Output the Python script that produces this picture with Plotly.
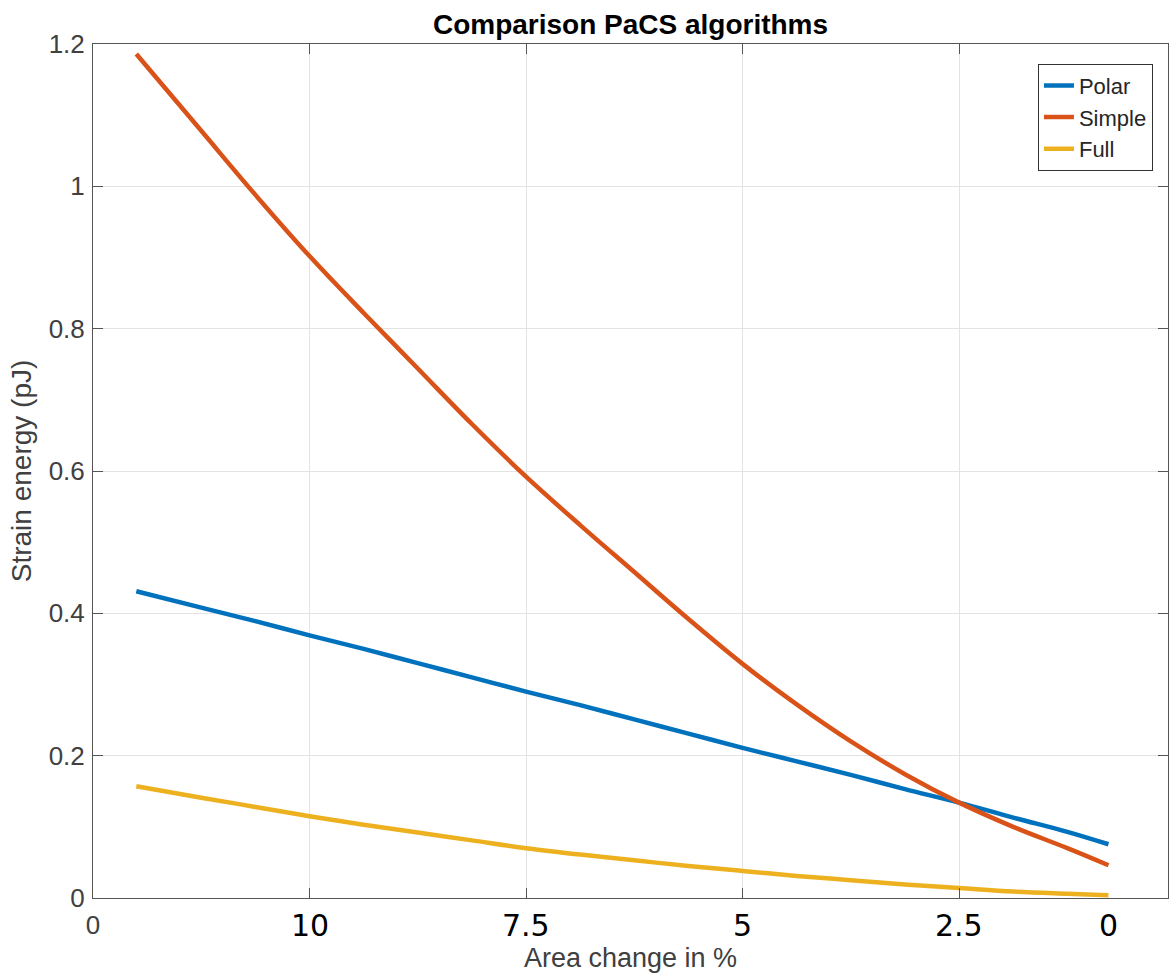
import plotly.graph_objects as go

# Underlying x positions of the samples (axis units, the chart relabels them)
x_step = [0.2, 0.5, 0.75, 1.0, 1.25, 1.5, 1.75, 2.0, 2.25, 2.5, 2.75,
          3.0, 3.25, 3.5, 3.75, 4.0, 4.25, 4.5, 4.69]

polar = [0.431, 0.408, 0.389, 0.369, 0.350, 0.330, 0.310, 0.290, 0.271, 0.251,
         0.231, 0.211, 0.192, 0.173, 0.153, 0.134, 0.113, 0.093, 0.0755]
simple = [1.186, 1.078, 0.988, 0.902, 0.822, 0.744, 0.666, 0.592, 0.524, 0.458,
          0.392, 0.329, 0.272, 0.220, 0.174, 0.134, 0.100, 0.070, 0.046]
full = [0.157, 0.141, 0.128, 0.115, 0.103, 0.092, 0.081, 0.070, 0.061, 0.053,
        0.045, 0.038, 0.031, 0.025, 0.019, 0.014, 0.009, 0.006, 0.004]

# custom "area change" labels written under the axis
area_labels = ["10", "7.5", "5", "2.5", "0"]
area_label_pos = [1, 2, 3, 4, 4.69]

x_ticks = [0, 1, 2, 3, 4]
x_ticktext = ["0", "", "", "", ""]
y_ticks = [0, 0.2, 0.4, 0.6, 0.8, 1.0, 1.2]
y_ticktext = ["0", "0.2", "0.4", "0.6", "0.8", "1", "1.2"]

series = [("Polar", polar, "#0072BD"),
          ("Simple", simple, "#D95319"),
          ("Full", full, "#EDB120")]

FONT = "Liberation Sans, Arial, sans-serif"
AXC = "#555555"
TXT = "#404040"

fig = go.Figure()
for name, vals, col in series:
    fig.add_trace(go.Scatter(x=x_step, y=vals, mode="lines", name=name,
                             line=dict(color=col, width=4.5, shape="spline")))

for lab, pos in zip(area_labels, area_label_pos):
    fig.add_annotation(x=pos, y=0, xref="x", yref="y", text=lab, showarrow=False,
                       yshift=-27, yanchor="middle", xanchor="center",
                       font=dict(family="DejaVu Sans, sans-serif", size=30, color="black"))

fig.update_layout(
    width=1169, height=977,
    margin=dict(l=93, r=1, t=44, b=79, autoexpand=False),
    paper_bgcolor="white", plot_bgcolor="white",
    font=dict(family=FONT, color=TXT),
    title=dict(text="<b>Comparison PaCS algorithms</b>", x=(93 + 1168) / 2 / 1169,
               xanchor="center", y=1 - 24 / 977, yanchor="middle",
               font=dict(family=FONT, size=28, color="black")),
    showlegend=True,
    legend=dict(x=0.986, y=0.977, xanchor="right", yanchor="top",
                bgcolor="white", bordercolor="#333333", borderwidth=1,
                font=dict(family=FONT, size=22, color="#262626"),
                tracegroupgap=0),
)
fig.update_xaxes(range=[0, 4.965], tickvals=x_ticks, ticktext=x_ticktext, automargin=False,
                 showgrid=True, gridcolor="#e3e3e3", gridwidth=1, zeroline=False,
                 showline=True, linecolor=AXC, linewidth=1, mirror="ticks",
                 ticks="inside", ticklen=10, tickcolor=AXC,
                 tickfont=dict(family=FONT, size=26, color=TXT), ticklabelstandoff=4,
                 title=dict(text="Area change in %", font=dict(family=FONT, size=27, color=TXT),
                            standoff=8))
fig.update_yaxes(range=[0, 1.2], tickvals=y_ticks, ticktext=y_ticktext, automargin=False,
                 showgrid=True, gridcolor="#e3e3e3", gridwidth=1, zeroline=False,
                 showline=True, linecolor=AXC, linewidth=1, mirror="ticks",
                 ticks="inside", ticklen=10, tickcolor=AXC,
                 tickfont=dict(family=FONT, size=26, color=TXT), ticklabelstandoff=2,
                 title=dict(text="Strain energy (pJ)", font=dict(family=FONT, size=28, color=TXT),
                            standoff=8))

fig.write_html("out.html", config={"displayModeBar": False},
               post_script="document.body.style.margin='0px';"
                           "document.body.style.overflow='hidden';")
